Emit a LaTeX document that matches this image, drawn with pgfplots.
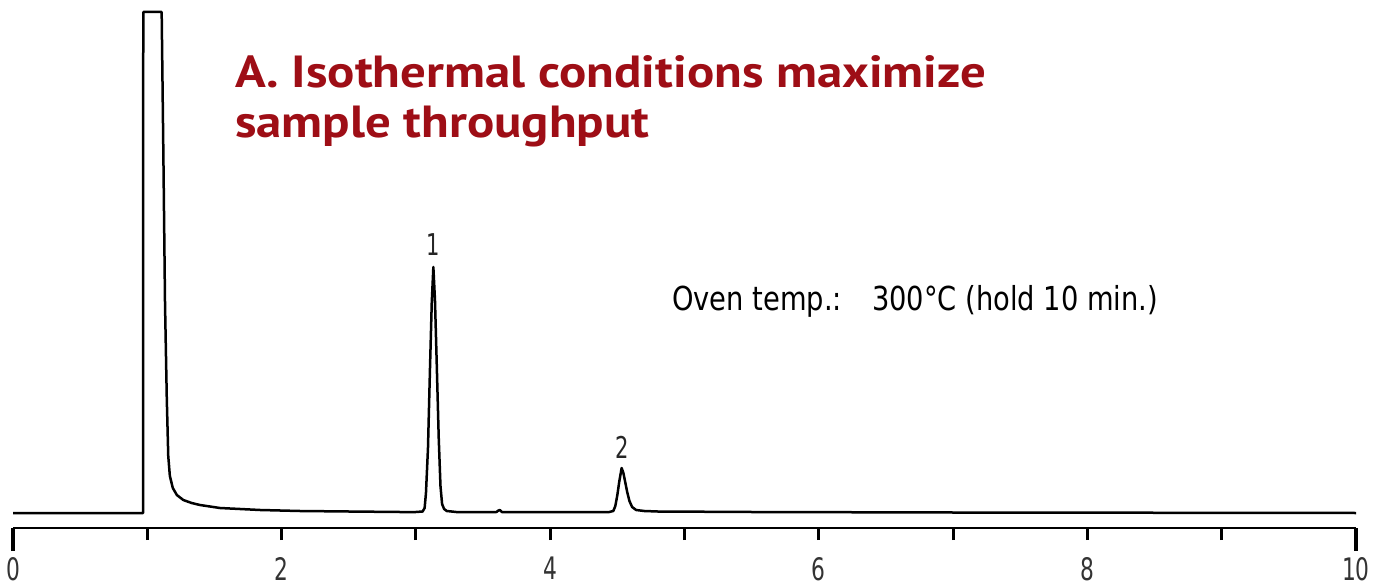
\documentclass[border=0pt]{standalone}
\usepackage{fontspec}
\usepackage{graphicx}
\usepackage{pgfplots}
\pgfplotsset{compat=1.18}
\newfontfamily\condfont{DejaVu Sans Condensed}
\newfontfamily\titlefont{PT Sans}
\definecolor{titlered}{RGB}{158,14,22}
\newcommand\tl[1]{\scalebox{0.78}[1]{#1}}
\newcommand\ol[1]{\scalebox{0.92}[1]{#1}}
\newcommand\ttl[1]{\scalebox{1.13}[1]{#1}}
\begin{document}
\begin{tikzpicture}
\begin{axis}[
  at={(13pt,59pt)}, anchor=south west,
  scale only axis, width=1343pt, height=528pt,
  xmin=0, xmax=10, ymin=0, ymax=528,
  axis x line=bottom, axis y line=none,
  axis line style={-, line width=2.6pt},
  xtick={0,1,2,3,4,5,6,7,8,9,10},
  xticklabels={\tl{0},,\tl{2},,\tl{4},,\tl{6},,\tl{8},,\tl{10}},
  tick align=outside, major tick length=12pt,
  tick style={line width=3pt, black},
  extra x ticks={0,10}, extra x tick labels={},
  extra x tick style={major tick length=23pt, tick style={line width=3.5pt}},
  xticklabel style={font=\condfont\fontsize{31}{31}\selectfont, text=black!80, inner sep=0pt, anchor=north, yshift=-17pt},
  clip=false,
]
\addplot[black, line width=2.5pt, line join=round] coordinates {
(0,15) (0.5,15) (0.968,15) (0.970,516) (1.107,516) (1.120,370) (1.132,224)
(1.145,130) (1.156,72) (1.168,52) (1.19,40) (1.22,33) (1.268,28) (1.33,25)
(1.392,23) (1.541,20) (1.84,18) (2.137,17) (2.5,16.5) (2.88,16)
(3.00,16) (3.05,16.5) (3.065,20) (3.075,35) (3.09,80) (3.105,160) (3.118,225)
(3.13,261) (3.142,228) (3.155,165) (3.17,90) (3.183,42) (3.195,24) (3.21,19)
(3.23,17) (3.3,16) (3.60,16) (3.615,17.5) (3.625,18) (3.64,16)
(4.44,16) (4.47,17) (4.485,22) (4.50,33) (4.515,47) (4.532,60) (4.545,55)
(4.56,45) (4.575,35) (4.59,27) (4.61,21) (4.64,18) (4.70,17) (4.8,16.5)
(5.5,16) (7,15.5) (10,15)
};
\node[anchor=base, font=\condfont\fontsize{30}{30}\selectfont, inner sep=0pt, text=black!85] at (axis cs:3.13,272) {\tl{1}};
\node[anchor=base, font=\condfont\fontsize{30}{30}\selectfont, inner sep=0pt, text=black!85] at (axis cs:4.535,70) {\tl{2}};
\node[anchor=base west, font=\condfont\fontsize{33}{33}\selectfont, inner sep=0pt] at (axis cs:4.907,217) {\ol{Oven temp.:}};
\node[anchor=base west, font=\condfont\fontsize{33}{33}\selectfont, inner sep=0pt] at (axis cs:6.396,217) {\ol{300°C (hold 10 min.)}};
\node[anchor=base west, font=\titlefont\bfseries\fontsize{45}{50}\selectfont, text=titlered, inner sep=0pt] at (axis cs:1.653,440) {\ttl{A. Isothermal conditions maximize}};
\node[anchor=base west, font=\titlefont\bfseries\fontsize{45}{50}\selectfont, text=titlered, inner sep=0pt] at (axis cs:1.653,390) {\ttl{sample throughput}};
\end{axis}
\pgfresetboundingbox
\path[use as bounding box] (0,0) rectangle (1379pt,587pt);
\end{tikzpicture}
\end{document}
